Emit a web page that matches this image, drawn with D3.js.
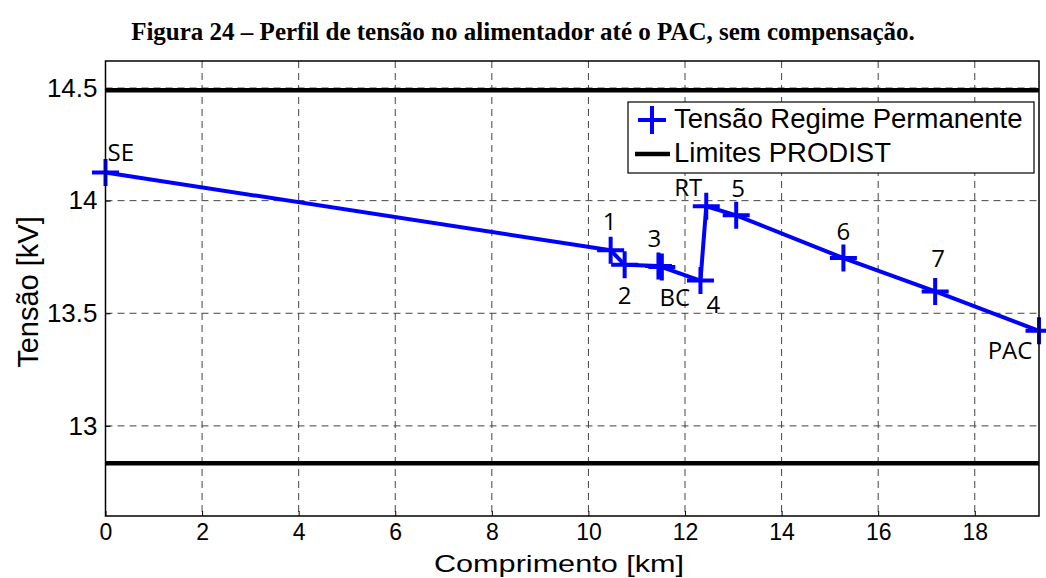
<!DOCTYPE html>
<html>
<head>
<meta charset="utf-8">
<!-- Load d3.js -->
<script src="https://d3js.org/d3.v7.min.js"></script>
<style>
  body { margin: 0; background: white; }
</style>
</head>
<body>

<!-- Create a div where the graph will take place -->
<div id="my_dataviz"></div>

<script>

// data
var comprimento = [0, 10.46, 10.75, 11.45, 11.52, 12.32, 12.44, 13.06, 15.28, 17.18, 19.33]
var tensao      = [14.125, 13.78, 13.715, 13.71, 13.705, 13.645, 13.975, 13.935, 13.745, 13.597, 13.422]
var pontos      = ["SE", "1", "2", "3", "BC", "4", "RT", "5", "6", "7", "PAC"]
var limites     = [14.49, 12.834]
var xTicks      = [0, 2, 4, 6, 8, 10, 12, 14, 16, 18]
var yTicks      = [13, 13.5, 14, 14.5]
var legendNames = ["Tensão Regime Permanente", "Limites PRODIST"]

// label placement relative to each point (pixels)
var labelPos = {
  "SE":  {dx: 2,   dy: -11, anchor: "start"},
  "1":   {dx: -1,  dy: -20, anchor: "middle"},
  "2":   {dx: 0,   dy: 39,  anchor: "middle"},
  "3":   {dx: -4,  dy: -19, anchor: "middle"},
  "BC":  {dx: 13,  dy: 39,  anchor: "middle"},
  "4":   {dx: 13,  dy: 32,  anchor: "middle"},
  "RT":  {dx: -18, dy: -10, anchor: "middle"},
  "5":   {dx: 2,   dy: -18, anchor: "middle"},
  "6":   {dx: 0,   dy: -18, anchor: "middle"},
  "7":   {dx: 3,   dy: -24, anchor: "middle"},
  "PAC": {dx: -29, dy: 28,  anchor: "middle"}
}

var W = 1046, H = 578
var margin = {top: 61, right: 7, bottom: 62, left: 105.5},
    width = W - margin.left - margin.right,
    height = H - margin.top - margin.bottom;

var svg = d3.select("#my_dataviz")
  .append("svg")
    .attr("width", W)
    .attr("height", H)
    .style("font-family", "'Liberation Sans', Arial, sans-serif")

// title
svg.append("text")
  .attr("x", 523)
  .attr("y", 40)
  .attr("text-anchor", "middle")
  .style("font-family", "'Liberation Serif', 'Times New Roman', serif")
  .style("font-weight", "bold")
  .style("font-size", "25px")
  .text("Figura 24 – Perfil de tensão no alimentador até o PAC, sem compensação.")

var g = svg.append("g")
  .attr("transform", "translate(" + margin.left + "," + margin.top + ")")

// scales
var x = d3.scaleLinear()
  .domain([0, comprimento[comprimento.length - 1]])
  .range([0, width])

var y = d3.scaleLinear()
  .domain([12.6, 14.62])
  .range([height, 0])

// dashed grid
g.selectAll("xgrid")
  .data(xTicks.slice(1))
  .enter()
  .append("line")
    .attr("x1", function(d){ return x(d) })
    .attr("x2", function(d){ return x(d) })
    .attr("y1", 0)
    .attr("y2", height)
    .attr("stroke", "#444")
    .attr("stroke-width", 1)
    .attr("stroke-dasharray", "7,5")

g.selectAll("ygrid")
  .data(yTicks)
  .enter()
  .append("line")
    .attr("x1", 0)
    .attr("x2", width)
    .attr("y1", function(d){ return y(d) })
    .attr("y2", function(d){ return y(d) })
    .attr("stroke", "#444")
    .attr("stroke-width", 1)
    .attr("stroke-dasharray", "7,5")

// axes
var xAxis = g.append("g")
  .attr("transform", "translate(0," + height + ")")
  .call(d3.axisBottom(x).tickValues(xTicks).tickSizeInner(-5).tickSizeOuter(0).tickPadding(8))
var yAxis = g.append("g")
  .call(d3.axisLeft(y).tickValues(yTicks).tickFormat(d3.format("")).tickSizeInner(-5).tickSizeOuter(0).tickPadding(8))

;[xAxis, yAxis].forEach(function(a){
  a.select(".domain").remove()
  a.selectAll("line").attr("stroke", "black")
  a.selectAll("text")
    .style("font-family", "'Liberation Sans', Arial, sans-serif")
    .style("font-size", "26px")
    .attr("fill", "black")
})
xAxis.selectAll("text").attr("dy", "0.71em").style("font-size", "23px")

// PRODIST limits
g.selectAll("limites")
  .data(limites)
  .enter()
  .append("line")
    .attr("x1", 0)
    .attr("x2", width)
    .attr("y1", function(d){ return y(d) })
    .attr("y2", function(d){ return y(d) })
    .attr("stroke", "black")
    .attr("stroke-width", 4.5)

// voltage profile
var dados = comprimento.map(function(c, i){ return {x: c, y: tensao[i], name: pontos[i]} })

var line = d3.line()
  .x(function(d){ return x(d.x) })
  .y(function(d){ return y(d.y) })

g.append("path")
  .datum(dados)
  .attr("d", line)
  .attr("fill", "none")
  .attr("stroke", "#0000ff")
  .attr("stroke-width", 4)
  .attr("stroke-linejoin", "round")

var plus = function(sel, s) {
  sel.append("path")
    .attr("d", "M" + (-s) + ",0H" + s + "M0," + (-s) + "V" + s)
    .attr("stroke", "#0000ff")
    .attr("stroke-width", 4)
    .attr("fill", "none")
}

g.selectAll("marks")
  .data(dados)
  .enter()
  .append("g")
    .attr("transform", function(d){ return "translate(" + x(d.x) + "," + y(d.y) + ")" })
    .call(plus, 13.5)

// point labels
g.selectAll("labels")
  .data(dados)
  .enter()
  .append("text")
    .attr("x", function(d){ return x(d.x) + labelPos[d.name].dx })
    .attr("y", function(d){ return y(d.y) + labelPos[d.name].dy })
    .attr("text-anchor", function(d){ return labelPos[d.name].anchor })
    .style("font-family", "'Open Sans', 'Noto Sans', sans-serif")
    .style("font-size", "24px")
    .attr("fill", "black")
    .text(function(d){ return d.name })

// box round the axes
g.append("rect")
  .attr("width", width)
  .attr("height", height)
  .attr("fill", "none")
  .attr("stroke", "black")
  .attr("stroke-width", 1.5)

// legend
var leg = svg.append("g").attr("transform", "translate(628,102)")
leg.append("rect")
  .attr("width", 406)
  .attr("height", 71)
  .attr("fill", "white")
  .attr("stroke", "black")
  .attr("stroke-width", 1.2)
leg.append("g").attr("transform", "translate(24,18)").call(plus, 14)
leg.append("line")
  .attr("x1", 7).attr("x2", 42)
  .attr("y1", 52).attr("y2", 52)
  .attr("stroke", "black")
  .attr("stroke-width", 4.5)
leg.selectAll("legtext")
  .data(legendNames)
  .enter()
  .append("text")
    .attr("x", 46)
    .attr("y", function(d, i){ return 26 + i * 34 })
    .style("font-size", "27.5px")
    .attr("fill", "black")
    .text(function(d){ return d })

// axis labels
svg.append("text")
  .attr("x", 559)
  .attr("y", 572)
  .attr("text-anchor", "middle")
  .attr("textLength", 250)
  .attr("lengthAdjust", "spacingAndGlyphs")
  .style("font-size", "24px")
  .text("Comprimento [km]")

svg.append("text")
  .attr("transform", "translate(38,292) rotate(-90)")
  .attr("text-anchor", "middle")
  .style("font-size", "29px")
  .text("Tensão [kV]")

</script>
</body>
</html>
